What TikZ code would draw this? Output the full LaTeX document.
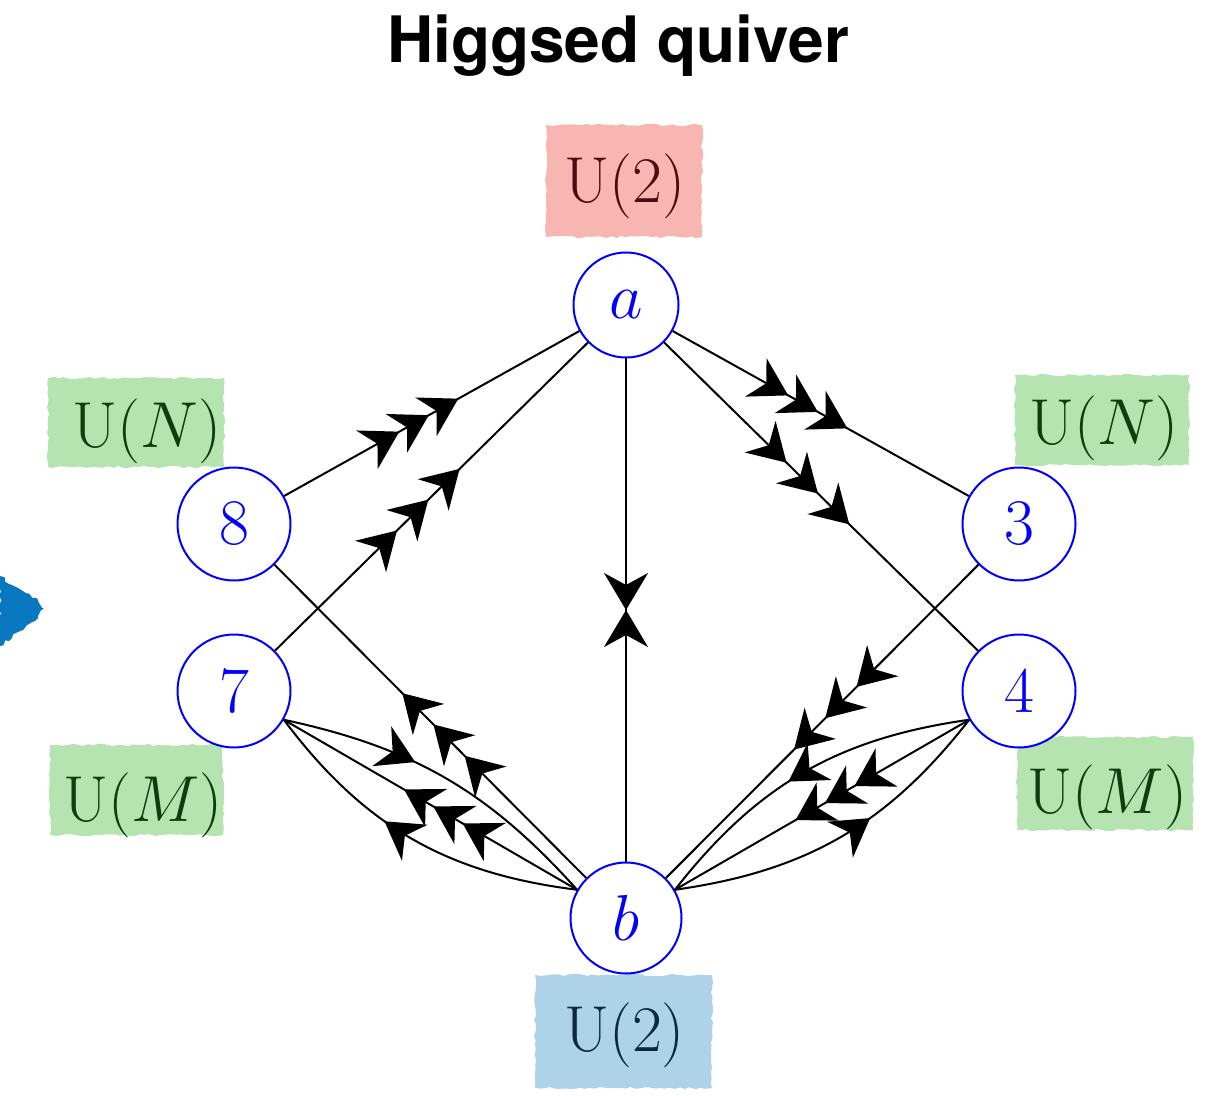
\RequirePackage{fix-cm}
\documentclass[tikz,border=0pt]{standalone}
\usepackage{fontspec}
\newfontfamily\headfont{TeX Gyre Heros}
\usetikzlibrary{arrows.meta,decorations.markings,decorations.pathmorphing}

\definecolor{redbox}{HTML}{F7B6B1}
\definecolor{redtext}{HTML}{4A0C0C}
\definecolor{greenbox}{HTML}{B5E4B0}
\definecolor{greentext}{HTML}{0E3D0E}
\definecolor{bluebox}{HTML}{AED3E8}
\definecolor{bluetext}{HTML}{0B2A40}
\definecolor{blobblue}{HTML}{0A78C0}

\tikzset{
  qh/.tip={Stealth[length=18.5pt,width=22pt,inset=6pt]},
  threearrows/.style={postaction={decorate},
    decoration={markings,
      mark=at position 0.39 with {\arrow{qh}},
      mark=at position 0.49 with {\arrow{qh}},
      mark=at position 0.59 with {\arrow{qh}}}},
  onearrow/.style={postaction={decorate},
    decoration={markings, mark=at position #1 with {\arrow{qh}}}},
  meetarrows/.style={postaction={decorate},
    decoration={markings,
      mark=at position 0.5 with {\arrow{qh}},
      mark=at position 0.5 with {\arrowreversed{qh}}}},
  vertex/.style={circle, draw=blue, fill=white, line width=1pt, text=blue,
    inner sep=0pt, minimum size=56.5pt, font=\fontsize{32.5}{39}\selectfont},
  tag/.style={anchor=base, inner sep=0pt, font=\fontsize{32.5}{39}\selectfont},
  patch/.style={decorate, decoration={random steps, segment length=2.5pt, amplitude=0.6pt}},
  edge/.style={line width=1pt, black},
}

\begin{document}
\begin{tikzpicture}[x=0.5pt,y=-0.5pt]
\useasboundingbox (0,0) rectangle (1230,1096);

% title
\node[anchor=base, inner sep=0pt, font=\headfont\bfseries\fontsize{32}{38}\selectfont]
  (title) at (618,63) {Higgsed quiver};

% partial blue marker at the left edge
\fill[blobblue, decorate, decoration={random steps, segment length=2pt, amplitude=1pt}]
  (0,576) -- (18,588) -- (38,600) -- (44,609) -- (38,618) -- (18,632) -- (0,646) -- cycle;

% coloured gauge-group patches
\fill[redbox, patch] (546,125) rectangle (702,237);
\fill[greenbox, patch] (48,378) rectangle (224,467);
\fill[greenbox, patch] (1015,375) rectangle (1189,465);
\fill[greenbox, patch] (50,745) rectangle (223,835);
\fill[greenbox, patch] (1017,737) rectangle (1193,830);
\fill[bluebox, patch] (535,975) rectangle (712,1088);

\node[tag, text=redtext] (ga) at (625,203) {$\mathrm{U}(2)$};
\node[tag, text=bluetext] (gb) at (624.5,1051) {$\mathrm{U}(2)$};
\node[tag, text=greentext] (g8) at (147,447) {$\mathrm{U}(N)$};
\node[tag, text=greentext] (g3) at (1104,444) {$\mathrm{U}(N)$};
\node[tag, text=greentext] (g7) at (143,821) {$\mathrm{U}(M)$};
\node[tag, text=greentext] (g4) at (1107.5,813) {$\mathrm{U}(M)$};

% quiver nodes
\node[vertex, minimum size=52.5pt] (a) at (626,305) {$a$};
\node[vertex, minimum size=55.5pt] (b) at (626,918) {$b$};
\node[vertex] (n8) at (234,524) {8};
\node[vertex] (n7) at (234,691) {7};
\node[vertex] (n3) at (1019,524) {3};
\node[vertex] (n4) at (1019,691) {4};

% bifundamentals
\draw[edge, threearrows] (n8) -- (a);
\draw[edge, threearrows] (n7) -- (a);
\draw[edge, threearrows] (a) -- (n3);
\draw[edge, threearrows] (a) -- (n4);
\draw[edge, threearrows] (b) -- (n8);
\draw[edge, threearrows] (n3) -- (b);
\draw[edge, meetarrows] (a) -- (b);

% bundles between b and the M-nodes
\draw[edge, threearrows] (b.150) -- (n7.-30);
\draw[edge, onearrow=0.40] (n7.-30) to[bend left=18] (b.150);
\draw[edge, onearrow=0.59] (b.150) to[bend left=23] (n7.-30);

\draw[edge, threearrows] (n4.210) -- (b.30);
\draw[edge, onearrow=0.55] (n4.210) to[bend right=22] (b.30);
\draw[edge, onearrow=0.60] (b.30) to[bend right=22] (n4.210);
\end{tikzpicture}
\end{document}
